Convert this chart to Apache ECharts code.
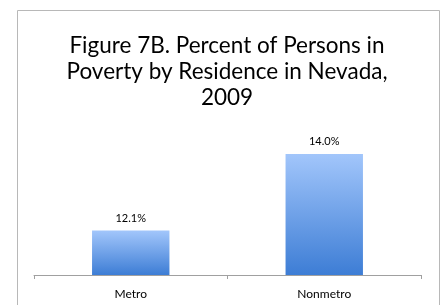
<!DOCTYPE html>
<html>
<head>
<meta charset="utf-8">
<script src="https://cdn.jsdelivr.net/npm/echarts@6/dist/echarts.min.js"></script>
<style>
    html, body { margin: 0; padding: 0; background: #fff; }
    #chart { width: 447px; height: 305px; }
</style>
</head>
<body>
<div id="chart"></div>
<script>
    var categories = ['Metro', 'Nonmetro'];
    var povertyRates = [12.1, 14.0];
    var titleText = 'Figure 7B. Percent of Persons in\nPoverty by Residence in Nevada,\n2009';

    var myChart = echarts.init(document.getElementById('chart'));
    var option = {
        animation: false,
        title: {
            text: titleText,
            left: 222,
            textAlign: 'center',
            top: 28,
            textStyle: {
                fontFamily: 'Lato',
                fontWeight: 'normal',
                fontSize: 22.5,
                lineHeight: 26,
                color: '#000'
            }
        },
        graphic: [
            {
                type: 'rect',
                shape: { x: 17.5, y: 10.5, width: 422, height: 300 },
                style: { fill: 'none', stroke: '#b8b8b8', lineWidth: 1 }
            }
        ],
        grid: {
            left: 34,
            right: 26,
            top: 113.5,
            bottom: 30
        },
        xAxis: {
            type: 'category',
            data: categories,
            axisLine: { lineStyle: { color: '#a0a0a0', width: 1 } },
            axisTick: { show: true, length: 4, lineStyle: { color: '#a0a0a0' } },
            axisLabel: {
                fontFamily: 'Lato',
                fontSize: 12,
                color: '#000',
                margin: 13
            }
        },
        yAxis: {
            type: 'value',
            min: 11,
            max: 15,
            show: false,
            splitLine: { show: false }
        },
        series: [
            {
                type: 'bar',
                data: povertyRates,
                barWidth: '40%',
                itemStyle: {
                    color: new echarts.graphic.LinearGradient(0, 0, 0, 1, [
                        { offset: 0, color: '#a2c6fb' },
                        { offset: 1, color: '#3d7dd5' }
                    ])
                },
                label: {
                    show: true,
                    position: 'top',
                    distance: 7,
                    fontFamily: 'Lato',
                    fontSize: 11,
                    color: '#000',
                    formatter: function (p) {
                        return p.value.toFixed(1) + '%';
                    }
                }
            }
        ]
    };
    myChart.setOption(option);
</script>
</body>
</html>
